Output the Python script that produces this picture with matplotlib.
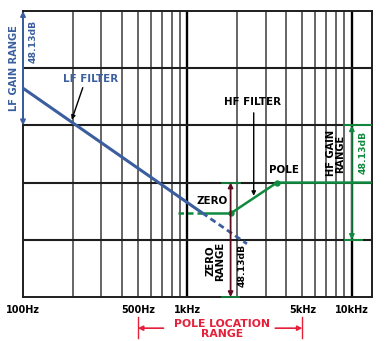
import matplotlib
matplotlib.use("Agg")
import matplotlib.pyplot as plt
from matplotlib.ticker import NullLocator

# ---- data ----
tick_freqs = [100, 500, 1000, 5000, 10000]
tick_labels = ["100Hz", "500Hz", "1kHz", "5kHz", "10kHz"]
minor_grid = [200, 300, 400, 500, 600, 700, 800, 900,
              2000, 3000, 4000, 5000, 6000, 7000, 8000, 9000]
major_grid = [1000, 10000]
level_grid = [1, 2, 3, 4]

lf_freq = [100, 1230, 2300]          # LF filter response
lf_level = [3.65, 1.47, 0.93]

hf_freq = [875, 1230, 1830, 3500, 13200]   # HF filter response
hf_level = [1.46, 1.46, 1.46, 2.0, 2.0]
zero_freq = 1830
pole_freq = 3500

lf_range = (3, 5)
zero_range = (0, 2)
hf_range = (1, 3)
pole_loc_range = (500, 5000)

BLUE = "#3a5e9e"
GREEN = "#108a3e"
MAROON = "#5e0c1e"
RED = "#e5203a"
FONT = "DejaVu Sans"

fig = plt.figure(figsize=(3.87, 3.41), dpi=100)
ax = fig.add_axes([23/387, 1-297/341, (371.7-23)/387, 286/341])
ax.set_xscale("log")
ax.set_xlim(100, 13200)
ax.set_ylim(0, 5)

for f in minor_grid:
    ax.axvline(f, color="#3c3c3c", lw=1.1, zorder=1)
for f in major_grid:
    ax.axvline(f, color="black", lw=1.7, zorder=1)
for y in level_grid:
    ax.axhline(y, color="#1e1e1e", lw=1.5, zorder=1)
for s in ax.spines.values():
    s.set_linewidth(1.4)
    s.set_color("#1e1e1e")

ax.set_xticks(tick_freqs)
ax.set_xticklabels(tick_labels, fontfamily=FONT, fontweight="bold", fontsize=7)
ax.xaxis.set_minor_locator(NullLocator())
ax.set_yticks([])
ax.tick_params(axis="x", length=0, pad=6)

# green HF filter
ax.plot(hf_freq[:2], hf_level[:2], color=GREEN, lw=1.8, ls=(0, (2.2, 1.6)), zorder=3)
ax.plot(hf_freq[1:], hf_level[1:], color=GREEN, lw=1.8, zorder=3, solid_capstyle="butt")
ax.plot([pole_freq, zero_freq], [hf_level[3], hf_level[2]], "o", color=GREEN, ms=3.5, zorder=5)

# blue LF filter
ax.plot(lf_freq[:2], lf_level[:2], color=BLUE, lw=2.2, zorder=4, solid_capstyle="butt")
ax.plot(lf_freq[1:], lf_level[1:], color=BLUE, lw=2.0, ls=(0, (2.2, 1.4)), zorder=4)

def darrow(x0, y0, x1, y1, color, lw=1.2, style="<|-|>", ms=7):
    ax.annotate("", xy=(x1, y1), xytext=(x0, y0),
                arrowprops=dict(arrowstyle=style, color=color, lw=lw,
                                mutation_scale=ms, shrinkA=0, shrinkB=0),
                zorder=6, annotation_clip=False)

# LF gain range
darrow(100, lf_range[0], 100, lf_range[1], BLUE, lw=1.4)
ax.text(88, 4.0, "LF GAIN RANGE", rotation=90, color=BLUE, fontfamily=FONT,
        fontweight="bold", fontsize=7.1, ha="center", va="center", clip_on=False)
ax.text(115, 4.46, "48.13dB", rotation=90, color=BLUE, fontfamily=FONT,
        fontweight="bold", fontsize=6.7, ha="center", va="center")
ax.text(256, 3.81, "LF FILTER", color=BLUE, fontfamily=FONT, fontweight="bold",
        fontsize=7.4, ha="center", va="center")
darrow(231, 3.66, 198, 3.10, "black", lw=1.0, style="-|>", ms=6)

# HF filter label
ax.text(2494, 3.41, "HF FILTER", color="black", fontfamily=FONT, fontweight="bold",
        fontsize=7.4, ha="center", va="center")
darrow(2530, 3.22, 2530, 1.77, "black", lw=1.0, style="-|>", ms=6)
ax.text(3880, 2.22, "POLE", color="black", fontfamily=FONT, fontweight="bold",
        fontsize=7.4, ha="center", va="center")
ax.text(1409, 1.68, "ZERO", color="black", fontfamily=FONT, fontweight="bold",
        fontsize=7.4, ha="center", va="center")

# zero range
ax.plot([1622, 2090], [zero_range[1]] * 2, color=GREEN, lw=1.2, zorder=3)
ax.plot([1622, 2050], [zero_range[0]] * 2, color=GREEN, lw=1.2, zorder=3, clip_on=False)
darrow(zero_freq, zero_range[0], zero_freq, zero_range[1], MAROON, lw=1.3)
ax.text(1470, 0.63, "ZERO\nRANGE", rotation=90, color="black", fontfamily=FONT,
        fontweight="bold", fontsize=7.3, ha="center", va="center", linespacing=0.95)
ax.text(2147, 0.56, "48.13dB", rotation=90, color="black", fontfamily=FONT,
        fontweight="bold", fontsize=6.7, ha="center", va="center")

# HF gain range
ax.plot([8900, 13200], [hf_range[1]] * 2, color=GREEN, lw=1.4, zorder=3)
ax.plot([9100, 11500], [hf_range[0]] * 2, color=GREEN, lw=1.4, zorder=3)
darrow(10000, hf_range[0], 10000, hf_range[1], GREEN, lw=1.3)
ax.text(7950, 2.51, "HF GAIN\nRANGE", rotation=90, color="black", fontfamily=FONT,
        fontweight="bold", fontsize=7.1, ha="center", va="center", linespacing=0.95)
ax.text(11780, 2.52, "48.13dB", rotation=90, color=GREEN, fontfamily=FONT,
        fontweight="bold", fontsize=6.7, ha="center", va="center")

# pole location range (below axis)
bt = ax.get_xaxis_transform()
for f in pole_loc_range:
    ax.plot([f, f], [-0.069, -0.144], color=RED, lw=1.0, transform=bt, clip_on=False)
ax.annotate("", xy=(pole_loc_range[0], -0.109), xytext=(715, -0.109), xycoords=bt,
            textcoords=bt, arrowprops=dict(arrowstyle="-|>", color=RED, lw=1.2,
                                           mutation_scale=7, shrinkA=0, shrinkB=0),
            annotation_clip=False)
ax.annotate("", xy=(pole_loc_range[1], -0.109), xytext=(3420, -0.109), xycoords=bt,
            textcoords=bt, arrowprops=dict(arrowstyle="-|>", color=RED, lw=1.2,
                                           mutation_scale=7, shrinkA=0, shrinkB=0),
            annotation_clip=False)
ax.text(1622, -0.111, "POLE LOCATION\nRANGE", transform=bt, color=RED, fontfamily=FONT,
        fontweight="bold", fontsize=7.8, ha="center", va="center", linespacing=1.0,
        clip_on=False)

fig.savefig("out.png", dpi=100)
